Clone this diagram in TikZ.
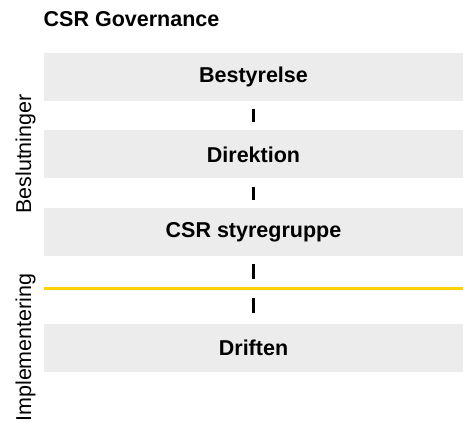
\documentclass[tikz,border=0pt]{standalone}
\usepackage{fontspec}
\setmainfont{Liberation Sans}
\usepackage{tikz}
\definecolor{boxgray}{HTML}{ECECEC}
\definecolor{lineyellow}{HTML}{FFD100}
\tikzstyle{level} = [rectangle, minimum width=419pt, minimum height=48pt, inner sep=0pt, text centered, fill=boxgray, font=\bfseries\fontsize{21.5}{25}\selectfont]
\tikzstyle{side} = [rotate=90, anchor=base, inner sep=0pt, font=\fontsize{21.5}{25}\selectfont]
\tikzstyle{tick} = [line width=3pt, shorten <=8pt, shorten >=8pt]
\tikzstyle{split} = [line width=3pt, draw=lineyellow]

\begin{document}
\begin{tikzpicture}[node distance=77.5pt, x=1pt, y=1pt]
            \useasboundingbox (0,0) rectangle (463,-422);
            \node (title) [anchor=base west, inner sep=0pt, font=\bfseries\fontsize{21.5}{25}\selectfont] at (43.5,-27) {CSR Governance};
            \node (level1) [level] at (253.5,-77) {Bestyrelse};
            \node (level2) [level, below of=level1] {Direktion};
            \node (level3) [level, below of=level2] {CSR styregruppe};
            \node (level4) [level, below of=level3, yshift=-38.5pt] {Driften};
            \node (decide) [side] at (31,-154) {Beslutninger};
            \node (execute) [side] at (31,-347.5) {Implementering};
            \coordinate (splitleft) at (44,-288.5);
            \coordinate (splitright) at (463,-288.5);
            \coordinate (splitmid) at (253.5,-288.5);
            \draw [split] (splitleft) -- (splitright);
            \draw [tick] (level1) -- (level2);
            \draw [tick] (level2) -- (level3);
            \draw [tick, shorten >=9.5pt] (level3) -- (splitmid);
            \draw [tick, shorten <=9.5pt, shorten >=11pt] (splitmid) -- (level4);
        \end{tikzpicture}
\end{document}
